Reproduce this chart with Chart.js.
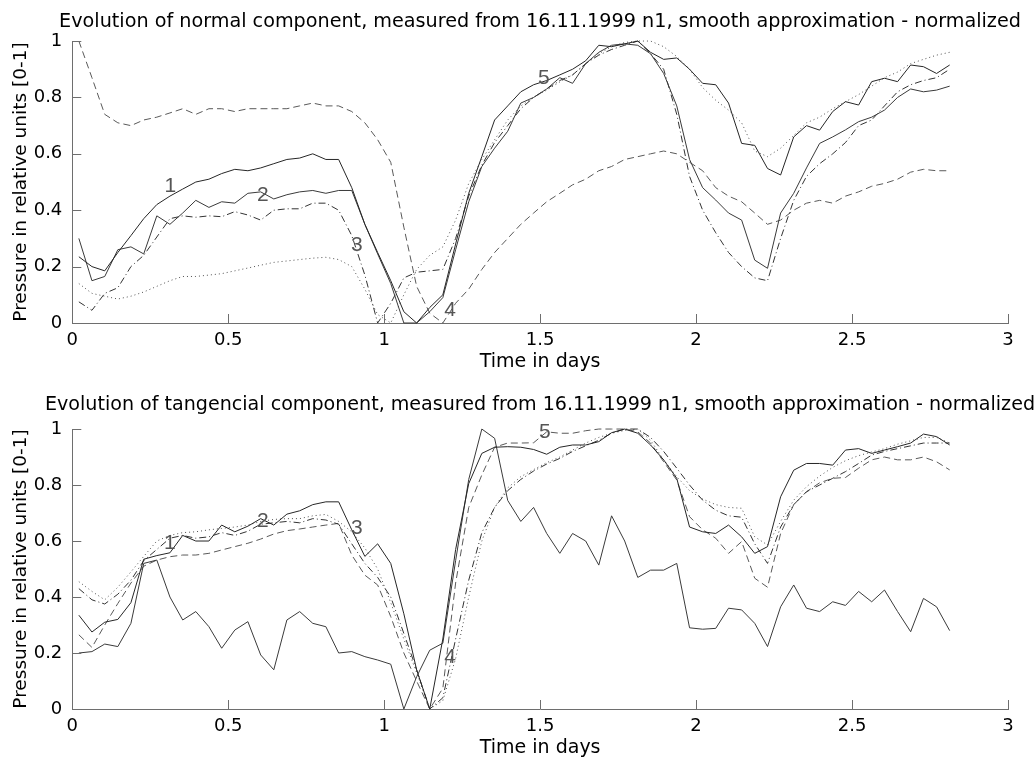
<!DOCTYPE html>
<html>
<head>
<meta charset="utf-8">
<title>Evolution of normal and tangencial components</title>
<script src="https://cdn.jsdelivr.net/npm/chart.js@4.4.1/dist/chart.umd.min.js"></script>
<style>
  html, body { margin: 0; padding: 0; background: #fff; }
  #wrap { position: relative; width: 1035px; height: 760px; background: #fff; }
  #wrap canvas { position: absolute; left: 0; }
  #normal { top: 0; }
  #tangencial { top: 385px; }
</style>
</head>
<body>
<div id="wrap">
  <canvas id="normal" width="1035" height="385"></canvas>
  <canvas id="tangencial" width="1035" height="375"></canvas>
</div>
<script>
// time of each sample, in days (hourly readings)
const timeDays = [
  0.021, 0.063, 0.104, 0.146, 0.188, 0.229, 0.271, 0.313, 0.354, 0.396,
  0.438, 0.479, 0.521, 0.563, 0.604, 0.646, 0.688, 0.729, 0.771, 0.813,
  0.854, 0.896, 0.938, 0.979, 1.021, 1.063, 1.104, 1.146, 1.188, 1.229,
  1.271, 1.313, 1.354, 1.396, 1.438, 1.479, 1.521, 1.563, 1.604, 1.646,
  1.688, 1.729, 1.771, 1.813, 1.854, 1.896, 1.938, 1.979, 2.021, 2.063,
  2.104, 2.146, 2.188, 2.229, 2.271, 2.313, 2.354, 2.396, 2.438, 2.479,
  2.521, 2.563, 2.604, 2.646, 2.688, 2.729, 2.771, 2.813
];

const xTicks = [0, 0.5, 1, 1.5, 2, 2.5, 3];
const yTicks = [0, 0.2, 0.4, 0.6, 0.8, 1];

// normal component
const normal1 = [
  0.235, 0.20, 0.185, 0.25, 0.31, 0.37, 0.42, 0.45, 0.475, 0.50,
  0.51, 0.53, 0.545, 0.54, 0.55, 0.565, 0.58, 0.585, 0.60, 0.58,
  0.58, 0.48, 0.35, 0.25, 0.15, 0.04, 0.0, 0.055, 0.10, 0.28,
  0.46, 0.59, 0.72, 0.77, 0.82, 0.845, 0.86, 0.88, 0.90, 0.93,
  0.985, 0.98, 0.99, 1.0, 0.96, 0.935, 0.94, 0.90, 0.85, 0.845,
  0.78, 0.637, 0.63, 0.548, 0.525, 0.66, 0.70, 0.684, 0.75, 0.785,
  0.773, 0.856, 0.868, 0.856, 0.915, 0.909, 0.885, 0.915
];
const normal2 = [
  0.30, 0.15, 0.165, 0.26, 0.27, 0.245, 0.38, 0.35, 0.39, 0.435,
  0.41, 0.43, 0.425, 0.46, 0.465, 0.44, 0.455, 0.465, 0.47, 0.46,
  0.47, 0.47, 0.35, 0.245, 0.14, 0.0, 0.0, 0.04, 0.09, 0.26,
  0.43, 0.555, 0.62, 0.68, 0.78, 0.80, 0.83, 0.87, 0.85, 0.92,
  0.96, 0.985, 0.99, 0.985, 0.955, 0.885, 0.77, 0.58, 0.48, 0.436,
  0.39, 0.365, 0.223, 0.194, 0.39, 0.46, 0.55, 0.637, 0.66, 0.685,
  0.714, 0.73, 0.755, 0.80, 0.83, 0.82, 0.826, 0.84
];
const normal3 = [
  0.075, 0.045, 0.105, 0.125, 0.20, 0.24, 0.305, 0.37, 0.38, 0.375,
  0.38, 0.377, 0.395, 0.383, 0.365, 0.40, 0.405, 0.405, 0.425, 0.425,
  0.40, 0.31, 0.17, 0.0, 0.07, 0.16, 0.18, 0.185, 0.19, 0.30,
  0.45, 0.56, 0.64, 0.70, 0.76, 0.80, 0.83, 0.86, 0.88, 0.92,
  0.95, 0.97, 0.985, 1.0, 0.955, 0.90, 0.74, 0.52, 0.40, 0.32,
  0.25, 0.20, 0.16, 0.15, 0.30, 0.435, 0.52, 0.565, 0.60, 0.64,
  0.70, 0.72, 0.77, 0.82, 0.845, 0.86, 0.87, 0.90
];
const normal4 = [
  1.0, 0.87, 0.74, 0.71, 0.70, 0.72, 0.73, 0.745, 0.76, 0.74,
  0.76, 0.76, 0.75, 0.76, 0.76, 0.76, 0.76, 0.77, 0.78, 0.77,
  0.77, 0.75, 0.71, 0.65, 0.57, 0.34, 0.13, 0.035, 0.0, 0.07,
  0.12, 0.19, 0.25, 0.30, 0.35, 0.39, 0.43, 0.46, 0.49, 0.51,
  0.54, 0.555, 0.58, 0.59, 0.60, 0.61, 0.60, 0.57, 0.54, 0.48,
  0.45, 0.43, 0.39, 0.35, 0.365, 0.40, 0.425, 0.435, 0.425, 0.45,
  0.465, 0.485, 0.495, 0.51, 0.535, 0.545, 0.54, 0.54
];
const normal5 = [
  0.14, 0.105, 0.095, 0.085, 0.095, 0.11, 0.13, 0.15, 0.165, 0.165,
  0.17, 0.175, 0.185, 0.195, 0.205, 0.215, 0.22, 0.225, 0.23, 0.233,
  0.225, 0.20, 0.12, 0.03, 0.0, 0.10, 0.19, 0.24, 0.27, 0.365,
  0.495, 0.58, 0.65, 0.72, 0.77, 0.80, 0.826, 0.855, 0.88, 0.92,
  0.955, 0.98, 0.995, 1.0, 1.0, 0.98, 0.945, 0.90, 0.835, 0.79,
  0.755, 0.71, 0.61, 0.59, 0.62, 0.665, 0.71, 0.73, 0.76, 0.785,
  0.81, 0.84, 0.87, 0.89, 0.92, 0.935, 0.95, 0.96
];

// tangencial component
const tangencial1 = [
  0.335, 0.275, 0.31, 0.32, 0.38, 0.535, 0.548, 0.558, 0.62, 0.60,
  0.60, 0.657, 0.633, 0.653, 0.68, 0.657, 0.696, 0.708, 0.73, 0.74,
  0.74, 0.64, 0.545, 0.59, 0.52, 0.34, 0.14, 0.0, 0.25, 0.57,
  0.805, 0.913, 0.935, 0.937, 0.935, 0.927, 0.91, 0.935, 0.943, 0.943,
  0.955, 0.987, 1.0, 0.985, 0.943, 0.89, 0.824, 0.65, 0.633, 0.627,
  0.657, 0.615, 0.556, 0.58, 0.758, 0.853, 0.877, 0.877, 0.871, 0.925,
  0.93, 0.913, 0.925, 0.937, 0.95, 0.982, 0.973, 0.943
];
const tangencial2 = [
  0.20, 0.205, 0.232, 0.223, 0.306, 0.52, 0.532, 0.40, 0.318, 0.348,
  0.294, 0.217, 0.282, 0.312, 0.193, 0.14, 0.318, 0.348, 0.306, 0.294,
  0.20, 0.205, 0.187, 0.175, 0.16, 0.0, 0.115, 0.21, 0.235, 0.53,
  0.82, 1.0, 0.967, 0.745, 0.67, 0.72, 0.627, 0.556, 0.627, 0.60,
  0.514, 0.69, 0.60, 0.47, 0.496, 0.496, 0.52, 0.29, 0.285, 0.288,
  0.36, 0.354, 0.306, 0.223, 0.365, 0.443, 0.36, 0.348, 0.383, 0.37,
  0.42, 0.383, 0.425, 0.348, 0.276, 0.395, 0.365, 0.28
];
const tangencial3 = [
  0.43, 0.39, 0.375, 0.41, 0.46, 0.53, 0.57, 0.61, 0.62, 0.61,
  0.615, 0.63, 0.62, 0.635, 0.66, 0.665, 0.67, 0.665, 0.68, 0.675,
  0.66, 0.59, 0.52, 0.47, 0.40, 0.27, 0.14, 0.0, 0.04, 0.25,
  0.46, 0.63, 0.72, 0.78, 0.82, 0.85, 0.875, 0.895, 0.92, 0.94,
  0.96, 0.985, 1.0, 1.0, 0.97, 0.92, 0.86, 0.80, 0.746, 0.71,
  0.69, 0.685, 0.59, 0.52, 0.65, 0.73, 0.776, 0.80, 0.824, 0.848,
  0.877, 0.907, 0.92, 0.93, 0.94, 0.95, 0.95, 0.95
];
const tangencial4 = [
  0.265, 0.22, 0.30, 0.377, 0.45, 0.51, 0.532, 0.544, 0.55, 0.55,
  0.556, 0.568, 0.58, 0.592, 0.607, 0.625, 0.637, 0.643, 0.65, 0.657,
  0.663, 0.55, 0.478, 0.443, 0.33, 0.20, 0.10, 0.0, 0.074, 0.45,
  0.72, 0.836, 0.935, 0.95, 0.95, 0.951, 0.99, 0.985, 0.985, 0.994,
  1.0, 1.0, 1.0, 0.99, 0.95, 0.883, 0.818, 0.687, 0.64, 0.61,
  0.556, 0.598, 0.467, 0.435, 0.627, 0.73, 0.776, 0.808, 0.824, 0.827,
  0.86, 0.89, 0.90, 0.89, 0.89, 0.90, 0.883, 0.854
];
const tangencial5 = [
  0.455, 0.42, 0.39, 0.435, 0.49, 0.545, 0.60, 0.62, 0.63, 0.633,
  0.64, 0.645, 0.65, 0.657, 0.67, 0.677, 0.68, 0.68, 0.69, 0.695,
  0.67, 0.633, 0.575, 0.50, 0.38, 0.25, 0.13, 0.0, 0.03, 0.18,
  0.40, 0.60, 0.72, 0.79, 0.83, 0.855, 0.88, 0.90, 0.925, 0.95,
  0.97, 0.985, 0.995, 1.0, 0.96, 0.89, 0.83, 0.78, 0.75, 0.73,
  0.72, 0.717, 0.615, 0.586, 0.67, 0.746, 0.794, 0.832, 0.863, 0.887,
  0.905, 0.918, 0.93, 0.946, 0.958, 0.97, 0.97, 0.95
];

// curve numbers written inside the plots (time, value)
const markText = ['1', '2', '3', '4', '5'];
const normalMarkT = [0.314, 0.611, 0.912, 1.211, 1.512];
const normalMarkV = [0.486, 0.454, 0.277, 0.046, 0.869];
const tangencialMarkT = [0.313, 0.611, 0.912, 1.211, 1.515];
const tangencialMarkV = [0.593, 0.671, 0.646, 0.186, 0.989];

const fontFamily = '"DejaVu Sans", sans-serif';
const axisColor = '#6e6e6e';
const lineColors = ['#262626', '#3a3a3a', '#333333', '#595959', '#505050'];
const lineDashes = [[], [], [7, 3, 1, 3], [7, 4], [1, 3]];

// small tick marks pointing into the plot, like the original figure
const inwardTicks = {
  id: 'inwardTicks',
  afterLayout(chart) {
    // let the y labels and title use the whole left margin
    chart.scales.y.left = 0;
  },
  afterDraw(chart) {
    const { ctx, chartArea, scales } = chart;
    ctx.save();
    ctx.strokeStyle = axisColor;
    ctx.lineWidth = 1;
    ctx.beginPath();
    scales.x.ticks.forEach(t => {
      const px = Math.round(scales.x.getPixelForValue(t.value)) + 0.5;
      ctx.moveTo(px, chartArea.bottom);
      ctx.lineTo(px, chartArea.bottom - 9);
    });
    scales.y.ticks.forEach(t => {
      const py = Math.round(scales.y.getPixelForValue(t.value)) + 0.5;
      ctx.moveTo(chartArea.left, py);
      ctx.lineTo(chartArea.left + 9, py);
    });
    ctx.stroke();
    ctx.restore();
  }
};

function curveNumbers(ts, vs) {
  return {
    id: 'curveNumbers',
    afterDatasetsDraw(chart) {
      const { ctx, scales } = chart;
      ctx.save();
      ctx.font = '21px "Liberation Sans", sans-serif';
      ctx.fillStyle = '#555';
      ctx.textAlign = 'center';
      ctx.textBaseline = 'middle';
      ts.forEach((t, k) => {
        ctx.fillText(markText[k], scales.x.getPixelForValue(t), scales.y.getPixelForValue(vs[k]));
      });
      ctx.restore();
    }
  };
}

const plainNumber = v => String(v);

function buildChart(canvasId, titleText, series, marksT, marksV, frame) {
  return new Chart(document.getElementById(canvasId), {
    type: 'line',
    data: {
      labels: timeDays,
      datasets: series.map((values, k) => ({
        label: String(k + 1),
        data: values,
        borderColor: lineColors[k],
        borderWidth: 1,
        borderDash: lineDashes[k],
        pointRadius: 0,
        tension: 0,
        fill: false,
        clip: 3
      }))
    },
    options: {
      responsive: false,
      animation: false,
      events: [],
      layout: { padding: { left: 45, right: 0, top: 0, bottom: 0 } },
      plugins: {
        legend: { display: false },
        tooltip: { enabled: false },
        title: {
          display: true,
          text: titleText,
          color: '#000',
          font: { family: fontFamily, size: 19.2, weight: 'normal' },
          padding: { top: frame.titleTop, bottom: frame.titleBottom }
        }
      },
      scales: {
        x: {
          type: 'linear',
          min: 0,
          max: 3,
          afterBuildTicks(s) { s.ticks = xTicks.map(v => ({ value: v })); },
          afterFit(s) { s.height = frame.xHeight; },
          grid: { display: false, drawTicks: false },
          border: { display: true, color: axisColor, width: 1 },
          ticks: { color: '#000', font: { family: fontFamily, size: 18 }, padding: 6.5, maxRotation: 0, autoSkip: false, callback: plainNumber },
          title: {
            display: true,
            text: 'Time in days',
            color: '#000',
            font: { family: fontFamily, size: 19 },
            padding: { top: 0, bottom: frame.xTitleBottom }
          }
        },
        y: {
          min: 0,
          max: 1,
          afterBuildTicks(s) { s.ticks = yTicks.map(v => ({ value: v })); },
          afterFit(s) { s.width = 27.3; },
          grid: { display: false, drawTicks: false },
          border: { display: true, color: axisColor, width: 1 },
          ticks: { color: '#000', font: { family: fontFamily, size: 18 }, padding: 10, callback: plainNumber },
          title: {
            display: true,
            text: 'Pressure in relative units [0-1]',
            color: '#000',
            font: { family: fontFamily, size: 18.5 },
            padding: { top: 10.4, bottom: 0 }
          }
        },
        yPad: {
          position: 'right',
          display: true,
          afterFit(s) { s.width = 27; },
          grid: { display: false, drawTicks: false },
          border: { display: false },
          ticks: { display: false }
        }
      }
    },
    plugins: [inwardTicks, curveNumbers(marksT, marksV)]
  });
}

buildChart(
  'normal',
  'Evolution of normal component, measured from 16.11.1999 n1, smooth approximation - normalized',
  [normal1, normal2, normal3, normal4, normal5],
  normalMarkT, normalMarkV,
  { titleTop: 10, titleBottom: 8, xHeight: 62, xTitleBottom: 11.6 }
);

buildChart(
  'tangencial',
  'Evolution of tangencial component, measured from 16.11.1999 n1, smooth approximation - normalized',
  [tangencial1, tangencial2, tangencial3, tangencial4, tangencial5],
  tangencialMarkT, tangencialMarkV,
  { titleTop: 8.5, titleBottom: 12.5, xHeight: 51, xTitleBottom: 0.6 }
);
</script>
</body>
</html>
